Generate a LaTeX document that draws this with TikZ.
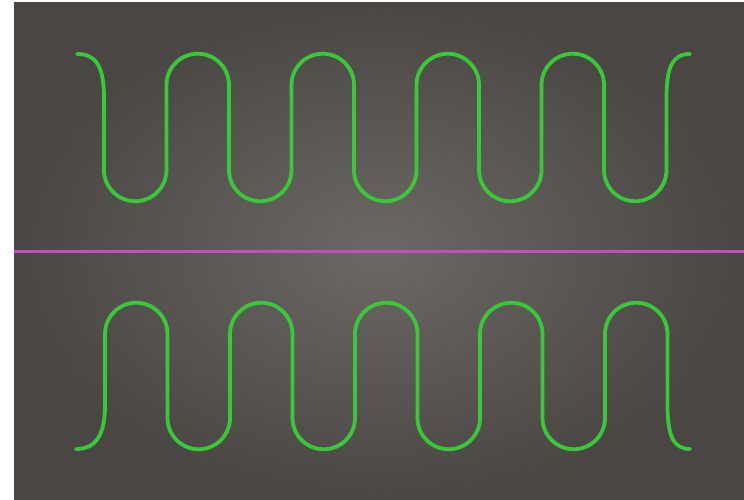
\documentclass[tikz,border=0pt]{standalone}
\begin{document}
\begin{tikzpicture}[x=1pt,y=1pt,
  wave/.style={draw=wavegreen,line width=3.8pt,line cap=round,line join=round},
  axisline/.style={draw=axismag,line width=3pt}]
\definecolor{wavegreen}{HTML}{38C838}
\definecolor{axismag}{HTML}{C050C0}
\definecolor{bginner}{HTML}{6C6866}
\definecolor{bgouter}{HTML}{4A4643}
\useasboundingbox (0,0) rectangle (744,500);
\fill[white] (0,0) rectangle (744,500);
\shade[inner color=bginner,outer color=bgouter] (14,0) rectangle (744,497);
% axis
\draw[axisline] (14,248) -- (744,248);
% top wave
\draw[wave] (77,446) .. controls (97,446) and (104,432) .. (104,402) -- (104,330)
  arc[start angle=180,end angle=360,radius=31.25] -- (166.5,415)
  arc[start angle=180,end angle=0,radius=31.25] -- (229,330)
  arc[start angle=180,end angle=360,radius=31.25] -- (291.5,415)
  arc[start angle=180,end angle=0,radius=31.25] -- (354,330)
  arc[start angle=180,end angle=360,radius=31.25] -- (416.5,415)
  arc[start angle=180,end angle=0,radius=31.25] -- (479,330)
  arc[start angle=180,end angle=360,radius=31.25] -- (541.5,415)
  arc[start angle=180,end angle=0,radius=31.25] -- (604,330)
  arc[start angle=180,end angle=360,radius=31.25] -- (666.5,402)
  .. controls (666.5,432) and (672,446) .. (690,446);
% bottom wave
\draw[wave] (76,51) .. controls (96,51) and (105,65) .. (105,95) -- (105,166)
  arc[start angle=180,end angle=0,radius=31.25] -- (167.5,82)
  arc[start angle=180,end angle=360,radius=31.25] -- (230,166)
  arc[start angle=180,end angle=0,radius=31.25] -- (292.5,82)
  arc[start angle=180,end angle=360,radius=31.25] -- (355,166)
  arc[start angle=180,end angle=0,radius=31.25] -- (417.5,82)
  arc[start angle=180,end angle=360,radius=31.25] -- (480,166)
  arc[start angle=180,end angle=0,radius=31.25] -- (542.5,82)
  arc[start angle=180,end angle=360,radius=31.25] -- (605,166)
  arc[start angle=180,end angle=0,radius=31.25] -- (667.5,95)
  .. controls (667.5,65) and (673,51) .. (690,51);
\end{tikzpicture}
\end{document}
